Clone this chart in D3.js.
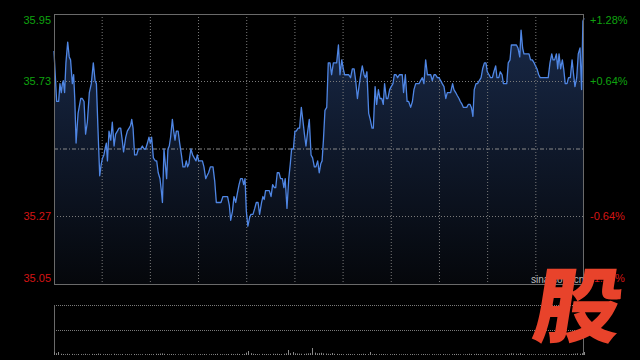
<!DOCTYPE html>
<html><head><meta charset="utf-8">
<script src="https://cdn.jsdelivr.net/npm/d3@7/dist/d3.min.js"></script>
<style>html,body{margin:0;padding:0;background:#000;overflow:hidden}</style>
</head><body><svg id="c" width="640" height="360"></svg>
<script>
// ---- data ----
const prevClose = 35.50;
const pctTicks = [1.28, 0.64, 0, -0.64, -1.28];
const priceLabels = ["35.95", "35.73", "", "35.27", "35.05"];
const pctLabels = ["+1.28%", "+0.64%", "", "-0.64%", "-1.28%"];
const sessionMinutes = 240;
const gridDivisions = 11;

// minutes from open (tick times) and prices
const minutes = [
  0,1.2,2.1,2.7,3.3,3.8,4.2,4.8,5.4,6.2,6.9,7.5,8.3,8.9,9.4,10.0,10.9,12.1,12.8,13.6,
  14.3,15.1,16.0,16.9,17.8,18.6,19.2,19.9,20.7,21.4,22.0,22.6,23.1,23.7,24.2,24.9,25.7,26.4,27.2,27.9,
  28.7,29.4,30.2,30.9,31.5,32.5,33.2,34.0,34.7,35.2,35.8,36.5,37.4,38.2,39.2,40.0,40.8,41.5,42.3,43.0,
  43.6,44.2,45.0,45.9,46.5,47.2,48.0,48.6,49.1,49.8,50.4,51.0,51.6,52.2,52.8,53.6,54.2,54.8,55.4,56.2,
  56.9,57.7,58.4,59.3,59.9,60.5,61.1,
  61.4,62.0,62.8,63.5,64.3,64.9,65.5,66.3,67.2,67.9,68.7,69.3,70.0,70.8,72.0,72.8,73.5,74.4,75.6,76.5,
  77.4,78.6,79.4,80.0,80.8,81.5,82.3,83.0,83.8,84.5,85.3,85.9,86.5,87.1,87.8,88.6,89.2,90.1,90.9,91.6,
  92.4,93.1,94.0,94.6,95.2,95.8,96.8,97.5,98.3,99.0,99.8,100.4,101.1,101.9,102.6,103.4,104.1,104.7,105.5,106.3,
  107.0,107.6,108.4,109.1,109.7,110.5,111.2,112.0,112.8,113.4,114.1,114.9,115.6,116.4,117.1,117.9,118.6,119.4,120.1,
  120.8,121.4,122.0,122.7,123.5,124.2,125.0,125.7,126.5,127.2,128.0,128.8,129.5,130.3,131.0,131.6,132.5,133.4,134.3,135.1,
  135.9,136.6,137.4,138.1,138.9,139.6,140.4,141.0,141.7,142.5,143.2,144.0,144.6,145.4,146.1,146.9,147.6,148.4,149.1,149.7,
  150.5,151.2,152.0,152.7,153.5,154.1,154.9,155.6,156.4,157.1,157.7,158.3,159.1,159.9,160.6,161.5,162.3,163.0,163.8,164.5,
  165.3,166.0,166.8,167.5,168.3,169.1,169.8,170.6,171.3,172.1,172.8,173.6,174.3,175.1,175.8,176.6,177.4,178.1,178.9,179.6,
  180.5,181.1,181.9,182.6,183.4,184.0,184.8,185.4,186.1,186.9,187.6,188.4,189.0,189.7,190.3,191.1,191.8,192.6,193.4,194.1,
  194.9,195.6,196.2,197.0,197.7,198.5,199.2,200.0,200.6,201.4,202.1,202.9,203.5,204.2,205.0,205.7,206.5,207.1,207.8,208.6,
  209.4,210.1,210.9,211.5,212.2,212.8,213.6,214.3,215.1,215.8,216.6,217.4,218.0,218.7,219.5,220.2,221.0,221.7,222.5,223.2,
  223.8,224.6,225.4,226.0,226.7,227.5,228.1,228.7,229.4,230.2,230.8,231.5,232.3,233.0,233.8,234.6,235.3,235.9,236.7,237.4,
  238.2,238.9,239.5,240.0
];
const prices = [
  35.83,35.66,35.66,35.72,35.69,35.72,35.73,35.69,35.79,35.86,35.81,35.80,35.72,35.75,35.67,35.52,35.62,35.67,35.67,35.66,
  35.55,35.59,35.69,35.72,35.79,35.73,35.72,35.57,35.41,35.45,35.47,35.48,35.50,35.52,35.46,35.56,35.53,35.59,35.51,35.55,
  35.56,35.57,35.57,35.53,35.49,35.54,35.56,35.57,35.58,35.60,35.57,35.48,35.48,35.50,35.50,35.51,35.50,35.50,35.52,35.54,
  35.52,35.54,35.47,35.46,35.46,35.42,35.40,35.36,35.32,35.50,35.45,35.40,35.50,35.51,35.54,35.60,35.56,35.53,35.56,35.56,
  35.52,35.48,35.44,35.44,35.46,35.44,35.45,
  35.47,35.50,35.48,35.47,35.46,35.48,35.46,35.46,35.46,35.44,35.40,35.41,35.42,35.44,35.44,35.39,35.32,35.32,35.32,35.34,
  35.34,35.34,35.31,35.26,35.29,35.34,35.32,35.35,35.38,35.40,35.40,35.38,35.40,35.29,35.24,35.27,35.28,35.28,35.30,35.32,
  35.32,35.28,35.32,35.34,35.33,35.36,35.36,35.36,35.34,35.38,35.37,35.37,35.42,35.42,35.40,35.40,35.37,35.40,35.30,35.40,
  35.45,35.50,35.50,35.56,35.56,35.57,35.57,35.64,35.59,35.55,35.51,35.56,35.60,35.48,35.47,35.44,35.44,35.46,35.42,
  35.45,35.46,35.53,35.63,35.64,35.79,35.79,35.75,35.79,35.79,35.79,35.85,35.75,35.80,35.77,35.75,35.75,35.75,35.74,35.77,
  35.77,35.73,35.67,35.71,35.75,35.78,35.75,35.74,35.76,35.62,35.60,35.57,35.57,35.71,35.65,35.70,35.67,35.67,35.65,35.72,
  35.67,35.67,35.70,35.71,35.72,35.75,35.75,35.74,35.75,35.75,35.75,35.69,35.75,35.66,35.66,35.64,35.66,35.70,35.72,35.72,
  35.72,35.73,35.74,35.72,35.80,35.75,35.75,35.75,35.73,35.75,35.75,35.74,35.74,35.73,35.72,35.71,35.67,35.69,35.69,35.69,
  35.72,35.70,35.69,35.68,35.67,35.66,35.65,35.64,35.64,35.64,35.65,35.65,35.64,35.61,35.70,35.72,35.72,35.73,35.74,35.77,
  35.79,35.79,35.76,35.75,35.74,35.74,35.76,35.78,35.74,35.74,35.76,35.75,35.72,35.72,35.72,35.79,35.80,35.85,35.85,35.85,
  35.85,35.84,35.81,35.90,35.84,35.82,35.82,35.82,35.82,35.80,35.80,35.79,35.78,35.77,35.75,35.74,35.74,35.74,35.74,35.74,
  35.74,35.79,35.82,35.80,35.80,35.82,35.77,35.82,35.77,35.80,35.77,35.72,35.72,35.74,35.74,35.80,35.75,35.71,35.74,35.82,
  35.84,35.70,35.93,35.94
];
// volume per minute (lots), index = minute from open
const volumes = [
  160,90,150,60,50,40,60,45,55,40,35,50,45,40,60,35,40,55,45,50,
  70,55,40,45,50,35,40,60,45,40,35,50,40,45,35,40,50,45,40,35,
  40,45,35,50,40,45,60,55,70,80,60,45,40,50,45,40,35,45,40,35,
  40,35,45,40,35,40,45,35,50,40,35,45,40,50,60,45,40,35,45,50,
  55,45,40,60,50,45,55,120,200,90,60,50,45,40,55,45,50,40,45,60,
  55,60,50,45,60,80,250,90,150,80,70,65,60,55,70,80,90,350,120,80,
  90,110,80,70,60,55,100,60,55,45,50,40,45,55,50,40,45,40,50,45,
  60,50,45,150,35,50,45,40,45,50,40,35,45,40,50,45,40,35,40,45,
  40,45,50,40,35,45,40,50,45,40,35,45,40,35,40,45,50,40,35,40,
  45,50,55,45,40,35,40,45,60,50,45,60,50,45,40,45,50,40,45,40,
  45,40,35,40,45,50,60,80,70,60,55,90,50,45,40,45,40,35,40,45,
  40,35,40,45,50,45,40,50,45,40,50,45,40,45,50,60,70,80,60,90,150
];

// ---- layout ----
const svg = d3.select("#c");
const L = 54, R = 584, T = 14, B = 284, VT = 305, VB = 355;
const lo = prevClose * (1 - pctTicks[0] / 100), hi = prevClose * (1 + pctTicks[0] / 100);
const x = d3.scaleLinear().domain([0, sessionMinutes]).range([L, R]);
const y = d3.scaleLinear().domain([lo, hi]).range([B, T]);
const vy = d3.scaleLinear().domain([0, 2500]).range([VB, VT]);
const gx = d3.scaleLinear().domain([0, gridDivisions]).range([L, R]);

svg.append("rect").attr("width", 640).attr("height", 360).attr("fill", "#000");

const defs = svg.append("defs");
const grad = defs.append("linearGradient").attr("id", "fillg")
  .attr("gradientUnits", "userSpaceOnUse").attr("x1", 0).attr("x2", 0).attr("y1", T).attr("y2", B);
grad.append("stop").attr("offset", 0).attr("stop-color", "#192a4a");
grad.append("stop").attr("offset", 1).attr("stop-color", "#05070b");

const idx = d3.range(prices.length);
svg.append("path").datum(idx)
  .attr("fill", "url(#fillg)")
  .attr("d", d3.area().x(i => x(minutes[i])).y0(B).y1(i => y(prices[i])));

// grid
const gridVals = pctTicks.map(p => prevClose * (1 + p / 100));
svg.append("g").selectAll("line").data(gridVals.filter((v, i) => i > 0 && i < gridVals.length - 1 && pctTicks[i] !== 0))
  .join("line").attr("x1", L).attr("x2", R).attr("y1", d => y(d)).attr("y2", d => y(d))
  .attr("stroke", "#7a7a7a").attr("stroke-dasharray", "1,2");
svg.append("line").attr("x1", L).attr("x2", R).attr("y1", y(prevClose)).attr("y2", y(prevClose))
  .attr("stroke", "#8a8a8a").attr("stroke-dasharray", "4,2,1,2");
svg.append("g").selectAll("line").data(d3.range(1, gridDivisions))
  .join("line").attr("x1", d => gx(d)).attr("x2", d => gx(d)).attr("y1", T).attr("y2", B)
  .attr("stroke", "#7a7a7a").attr("stroke-dasharray", "1,2");

// price line
svg.append("path").datum(idx)
  .attr("fill", "none").attr("stroke", "#4f86e4").attr("stroke-width", 1.3)
  .attr("stroke-linejoin", "round")
  .attr("d", d3.line().x(i => x(minutes[i])).y(i => y(prices[i])));

// frame
svg.append("rect").attr("x", L + 0.5).attr("y", T + 0.5).attr("width", R - L - 1).attr("height", B - T)
  .attr("fill", "none").attr("stroke", "#6a6a6a");

// volume panel
svg.append("g").selectAll("line").data([VT, (VT + VB) / 2])
  .join("line").attr("x1", L).attr("x2", R).attr("y1", d => Math.round(d) + 0.5).attr("y2", d => Math.round(d) + 0.5)
  .attr("stroke", "#7a7a7a").attr("stroke-dasharray", "1,1");
svg.append("line").attr("x1", L + 0.5).attr("x2", L + 0.5).attr("y1", VT).attr("y2", VB).attr("stroke", "#6a6a6a");
svg.append("line").attr("x1", R - 0.5).attr("x2", R - 0.5).attr("y1", VT).attr("y2", VB).attr("stroke", "#6a6a6a");
svg.append("g").selectAll("rect").data(volumes.map((v, i) => [i, v]))
  .join("rect").attr("x", d => Math.round(x(d[0]))).attr("width", 1)
  .attr("y", d => vy(d[1])).attr("height", d => vy(0) - vy(d[1]))
  .attr("fill", "#8a8a8a");

// axes labels
const font = "'Liberation Sans', Arial, sans-serif";
const labelY = (v, i) => y(v) + (i === 0 ? 6 : i === gridVals.length - 1 ? -6 : 0);
const leftAxis = d3.axisLeft(y).tickValues(gridVals).tickSize(0).tickPadding(3)
  .tickFormat((d, i) => priceLabels[i]);
const gl = svg.append("g").attr("transform", `translate(${L},0)`).call(leftAxis);
gl.select(".domain").remove();
gl.selectAll(".tick").attr("transform", (d, i) => `translate(0,${labelY(d, i)})`);
gl.selectAll("text").attr("font-family", font).attr("font-size", 11)
  .attr("fill", (d, i) => pctTicks[i] > 0 ? "#0fa30f" : "#d41414");

const rightAxis = d3.axisRight(y).tickValues(gridVals).tickSize(0).tickPadding(6)
  .tickFormat((d, i) => pctLabels[i]);
const gr = svg.append("g").attr("transform", `translate(${R},0)`).call(rightAxis);
gr.select(".domain").remove();
gr.selectAll(".tick").attr("transform", (d, i) => `translate(0,${labelY(d, i)})`);
gr.selectAll("text").attr("font-family", font).attr("font-size", 11)
  .attr("fill", (d, i) => pctTicks[i] > 0 ? "#0fa30f" : "#d41414");

// watermark
svg.append("text").attr("x", 531).attr("y", 283).attr("font-family", font).attr("font-size", 10)
  .attr("fill", "#bbbbbb").text("sina.com.cn");
svg.append("text").attr("transform", "translate(574,336) skewX(-9) scale(1.07,1)")
  .attr("text-anchor", "middle").attr("font-family", "'Noto Sans CJK SC'").attr("font-weight", 900)
  .attr("font-size", 82).attr("fill", "#e8432b").text("股");
</script></body></html>
